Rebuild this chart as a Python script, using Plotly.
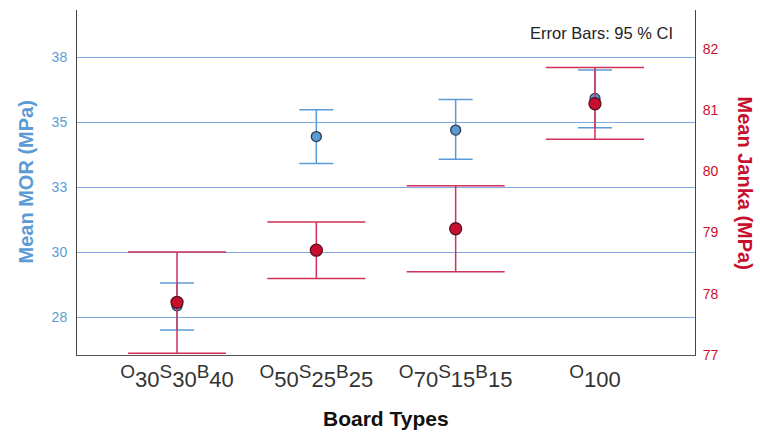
import plotly.graph_objects as go

LETTER = "<sup><span style='font-size:19px'>{}</span></sup>"


def label(parts):
    out = ""
    for letter, num in parts:
        out += LETTER.format(letter) + num
    return out


categories = [label([("O", "30"), ("S", "30"), ("B", "40")]),
              label([("O", "50"), ("S", "25"), ("B", "25")]),
              label([("O", "70"), ("S", "15"), ("B", "15")]),
              label([("O", "100")])]

mor_mean = [27.94, 34.45, 34.70, 35.92]
mor_lower = [27.01, 33.42, 33.58, 34.79]
mor_upper = [28.82, 35.48, 35.88, 37.01]

janka_mean = [77.86, 78.71, 79.06, 81.10]
janka_lower = [77.03, 78.25, 78.36, 80.52]
janka_upper = [78.68, 79.17, 79.76, 81.69]

mor_tickvals = [27.5, 30, 32.5, 35, 37.5]
mor_ticktext = ["28", "30", "33", "35", "38"]
janka_tickvals = [77, 78, 79, 80, 81, 82]

BLUE = "#5B9BD5"
GRID = "#7FA7DD"
RED = "#C8102E"
FONT = "Liberation Sans, Arial, sans-serif"

x_idx = list(range(len(categories)))

fig = go.Figure()
fig.add_trace(go.Scatter(
    x=x_idx, y=mor_mean, mode="markers", yaxis="y",
    marker=dict(size=10, color=BLUE, line=dict(color="#2F3A4A", width=1.3)),
    error_y=dict(type="data", symmetric=False,
                 array=[u - m for u, m in zip(mor_upper, mor_mean)],
                 arrayminus=[m - l for m, l in zip(mor_mean, mor_lower)],
                 color=BLUE, thickness=1.5, width=17),
    showlegend=False,
))
fig.add_trace(go.Scatter(
    x=x_idx, y=janka_mean, mode="markers", yaxis="y2",
    marker=dict(size=12, color=RED, line=dict(color="#5A1020", width=1.3)),
    error_y=dict(type="data", symmetric=False,
                 array=[u - m for u, m in zip(janka_upper, janka_mean)],
                 arrayminus=[m - l for m, l in zip(janka_mean, janka_lower)],
                 color="#D0305A", thickness=1.5, width=49),
    showlegend=False,
))

fig.update_layout(
    width=760, height=435,
    margin=dict(l=77, r=65, t=10, b=80),
    paper_bgcolor="white", plot_bgcolor="white",
    font=dict(family=FONT, color="#222"),
    xaxis=dict(
        range=[-0.718, 3.718], tickvals=x_idx, ticktext=categories,
        tickfont=dict(size=22, color="#333"), ticklabelstandoff=5,
        showgrid=False, zeroline=False,
        showline=True, linecolor="#555", linewidth=1, ticks="",
    ),
    yaxis=dict(
        range=[26.05, 39.32], tickvals=mor_tickvals, ticktext=mor_ticktext,
        tickfont=dict(size=14, color=BLUE), ticklabelstandoff=6,
        showgrid=True, gridcolor=GRID, gridwidth=1.2, zeroline=False,
        showline=True, linecolor="#444", linewidth=1, ticks="",
    ),
    yaxis2=dict(
        range=[77.0, 82.63], tickvals=janka_tickvals, overlaying="y", side="right",
        tickfont=dict(size=14, color=RED), ticklabelstandoff=4,
        showgrid=False, zeroline=False,
        showline=True, linecolor="#444", linewidth=1, ticks="",
    ),
    annotations=[
        dict(text="Error Bars: 95 % CI", xref="paper", yref="paper", x=0.968, y=0.933,
             xanchor="right", yanchor="middle", showarrow=False,
             font=dict(size=16.5, color="#222")),
        dict(text="<b>Mean MOR (MPa)</b>", xref="paper", yref="paper",
             x=(25 - 77) / 618, y=0.5, xanchor="center", yanchor="middle",
             textangle=-90, showarrow=False, font=dict(size=20, color=BLUE)),
        dict(text="<b>Mean Janka (MPa)</b>", xref="paper", yref="paper",
             x=(745 - 77) / 618, y=0.5, xanchor="center", yanchor="middle",
             textangle=90, showarrow=False, font=dict(size=20, color=RED)),
        dict(text="<b>Board Types</b>", xref="paper", yref="paper",
             x=0.5, y=(355 - 418) / 345, xanchor="center", yanchor="middle",
             showarrow=False, font=dict(size=21, color="#111")),
    ],
)

fig.write_html("out.html", config={"displayModeBar": False},
               post_script="document.body.style.margin='0px';")
